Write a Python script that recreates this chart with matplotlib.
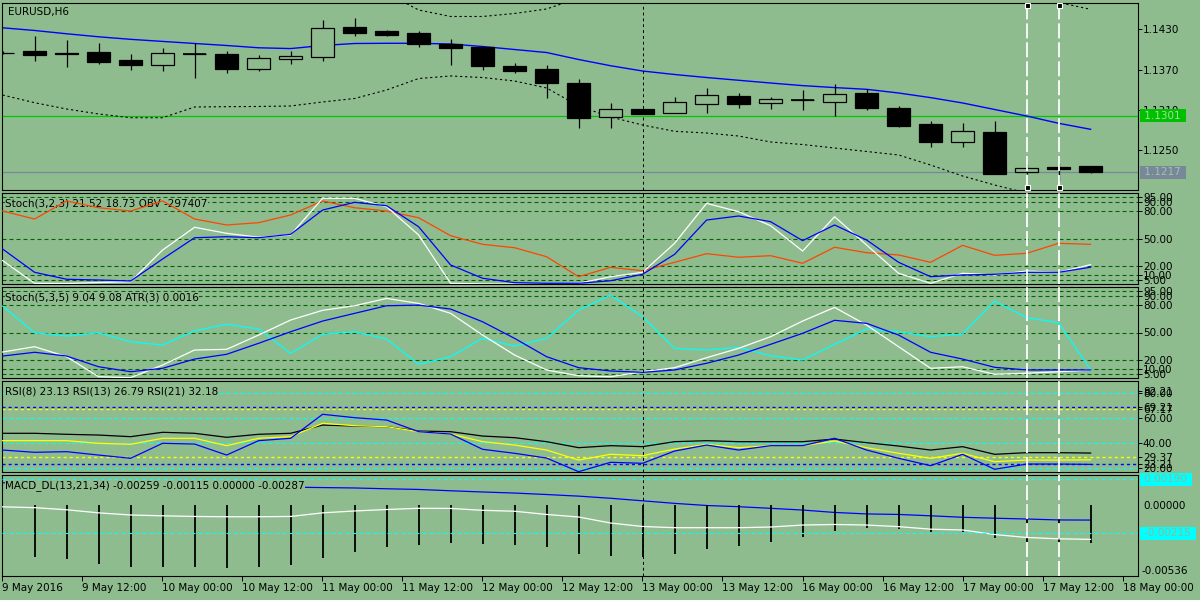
import matplotlib
matplotlib.use('Agg')
import matplotlib.pyplot as plt
import matplotlib.transforms as mtrans
import numpy as np

plt.rcParams['font.family'] = ['DejaVu Sans']
plt.rcParams['font.size'] = 7.5

# ---------------- data (bar index -1 .. 33) ----------------
bar_index = np.arange(-1, 34)

open_ = [1.13956, 1.13979, 1.13953, 1.13964, 1.13845, 1.13774, 1.13935, 1.13934, 1.13715, 1.13864,
         1.13885, 1.14333, 1.14277, 1.14247, 1.14079, 1.14034, 1.13759, 1.13710, 1.13501, 1.12989,
         1.13113, 1.13058, 1.13192, 1.13303, 1.13198, 1.13247, 1.13222, 1.13352, 1.13128, 1.12885,
         1.12625, 1.12770, 1.12168, 1.12252, 1.12267]
high = [1.13979, 1.14203, 1.14139, 1.14094, 1.13930, 1.14019, 1.14094, 1.13979, 1.13919, 1.13983,
        1.14441, 1.14467, 1.14292, 1.14277, 1.14153, 1.14053, 1.13795, 1.13770, 1.13561, 1.13198,
        1.13118, 1.13297, 1.13422, 1.13347, 1.13297, 1.13397, 1.13486, 1.13416, 1.13158, 1.12934,
        1.12900, 1.12934, 1.12292, 1.12303, 1.12267]
low = [1.13927, 1.13830, 1.13745, 1.13780, 1.13700, 1.13685, 1.13580, 1.13655, 1.13685, 1.13789,
       1.13834, 1.14207, 1.14207, 1.14039, 1.13774, 1.13695, 1.13655, 1.13282, 1.12834, 1.12825,
       1.13039, 1.13049, 1.13058, 1.13133, 1.13118, 1.13099, 1.13009, 1.13099, 1.12849, 1.12551,
       1.12551, 1.12139, 1.12139, 1.12039, 1.12153]
close = [1.13946, 1.13924, 1.13930, 1.13819, 1.13774, 1.13949, 1.13935, 1.13715, 1.13870, 1.13904,
         1.14318, 1.14252, 1.14222, 1.14079, 1.14028, 1.13759, 1.13685, 1.13506, 1.12983, 1.13113,
         1.13043, 1.13213, 1.13318, 1.13192, 1.13262, 1.13247, 1.13333, 1.13133, 1.12859, 1.12625,
         1.12785, 1.12148, 1.12228, 1.12222, 1.12170]

ma_blue = [1.14325, 1.14285, 1.14236, 1.14191, 1.14153, 1.14122, 1.14091, 1.14061, 1.14027, 1.14015,
           1.14061, 1.14091, 1.14094, 1.14094, 1.14083, 1.14046, 1.14001, 1.13956, 1.13852, 1.13759,
           1.13680, 1.13628, 1.13583, 1.13542, 1.13501, 1.13462, 1.13433, 1.13407, 1.13352, 1.13283,
           1.13203, 1.13106, 1.13009, 1.12900, 1.12810]
band_upper = [1.15328, 1.15362, 1.15358, 1.15343, 1.15324, 1.15261, 1.15039, 1.14974, 1.14903, 1.14871,
              1.14904, 1.14912, 1.14844, 1.14591, 1.14494, 1.14494, 1.14539, 1.14606, 1.14770, 1.14859,
              1.14919, 1.14949, 1.14964, 1.14964, 1.14964, 1.14949, 1.14949, 1.14934, 1.14919, 1.14889,
              1.14844, 1.14800, 1.14755, 1.14703, 1.14601]
band_lower = [1.13322, 1.13207, 1.13113, 1.13039, 1.12983, 1.12983, 1.13143, 1.13148, 1.13151, 1.13158,
              1.13218, 1.13270, 1.13397, 1.13568, 1.13606, 1.13583, 1.13531, 1.13427, 1.13158, 1.12994,
              1.12874, 1.12780, 1.12755, 1.12710, 1.12621, 1.12583, 1.12531, 1.12479, 1.12427, 1.12277,
              1.12113, 1.11979, 1.11860, 1.11785, 1.11755]
green_level = 1.1301
last_price = 1.1217
price_ticks = [1.1430, 1.1370, 1.1310, 1.1250]

stoch1_main = [26, 1.2, 1.0, 2, 3, 37.5, 62.3, 55.7, 51.4, 53.9, 93.9, 93.9, 84.7, 53.9, 1.2, 0.5, 0.3, 0.2,
               1.2, 8.4, 13.2, 44.8, 88.4, 79.3, 64, 36.4, 73.8, 42.9, 12.1, 1.2, 12.1, 10.3, 14.6, 13.2, 21.52]
stoch1_signal = [38.6, 13.2, 5.6, 4.8, 3.7, 27.7, 50.9, 52, 50.9, 54.6, 81.1, 89.5, 85.8, 62.9, 21.2, 6.7, 1.9,
                 1.2, 1.2, 4.0, 11, 32.8, 70.2, 74.6, 68.4, 47.7, 64.8, 48.4, 24.1, 8.4, 10.3, 11, 13.2, 13.2, 18.73]
obv_scaled = [80, 71.3, 91, 83.6, 80, 91, 71.3, 64.8, 67.3, 75.7, 91, 83.6, 80, 72.7, 53.1, 43.7, 40, 30.2,
              8.4, 18.6, 14.9, 24.1, 33.5, 29.6, 31.3, 23.0, 40.5, 34.6, 32.1, 24.1, 42.6, 31.7, 33.9, 44.8, 43.7]
stoch2_main = [28.7, 34.5, 23.6, 1.7, 0.7, 14.5, 30.9, 31.6, 47.2, 63.6, 74.2, 79.2, 87.2, 81.8, 70.9, 47.2,
               25.4, 9.1, 2.8, 1.7, 7.2, 11.6, 22.5, 32.7, 45.4, 62.5, 77.4, 58.1, 34.5, 10.9, 12.6, 4.4, 5.5, 7.2, 9.04]
stoch2_signal = [24.3, 28.4, 24.3, 12.6, 7.2, 10.9, 21, 26.2, 38.2, 50.8, 62.5, 70.9, 79.2, 79.9, 75.6, 61.7,
                 43.6, 23.6, 11.6, 8, 6.5, 9.1, 16.4, 25.4, 37.1, 49.1, 63.3, 60, 47.2, 28.4, 21, 12, 9.1, 9.1, 9.08]
atr_scaled = [78.8, 49.7, 46.1, 49.7, 39.9, 36.3, 51.9, 58.9, 53.8, 27.3, 48, 50.8, 42.9, 15.3, 23.6, 43.6,
              35.2, 43.6, 74.5, 90.8, 67.2, 32.7, 30.9, 33.8, 24.6, 20, 37.1, 53.8, 50.8, 45.4, 48.3, 84.3, 66.1, 60.6, 9.1]
stoch_levels = [95, 90, 80, 50, 20, 10, 5]

rsi8 = [34.6, 32.8, 33.3, 30.6, 28, 40, 39.4, 30.6, 42.1, 44, 63.2, 60.5, 58.6, 49.3, 47.4, 35.2, 32, 28.2,
        17.3, 24.8, 24, 33.8, 38.6, 34.6, 38.1, 38.1, 44, 34.6, 28, 22.1, 31.2, 19.2, 23.4, 23.4, 23.13]
rsi13 = [42.1, 42.1, 42.1, 40, 39.2, 44, 44, 38.1, 44, 45.3, 56, 54.1, 53.3, 49.3, 47.4, 41.3, 38.6, 34.6,
         26.6, 31.2, 30.1, 35.4, 39.2, 36.5, 38.1, 38.1, 41.8, 36.5, 32, 28, 32, 25.3, 26.6, 26.6, 26.79]
rsi21 = [48, 48, 47.2, 46.6, 45.3, 48.8, 48, 44.8, 47.2, 48, 54.6, 53.8, 53.3, 49.8, 49.3, 45.8, 44.5, 41.3,
         36.5, 38.1, 37.3, 41.3, 42.1, 41.3, 41.3, 41.3, 43.4, 40.5, 37.8, 34.6, 37.3, 31.2, 32.5, 32.5, 32.18]
rsi_cyan_levels = [80, 60, 40, 20]
rsi_blue_levels = [69.21, 23.21]
rsi_yellow_levels = [67.17, 29.37]
rsi_tick_values = [82.21, 80, 69.21, 67.17, 60, 40, 29.37, 23.21, 20]

macd_hist = [np.nan, -0.00389, -0.00408, -0.00443, -0.00463, -0.00463, -0.00463, -0.00475, -0.00463, -0.00451,
             -0.00396, -0.00351, -0.00314, -0.00301, -0.00284, -0.00296, -0.00301, -0.00314, -0.00368, -0.00381,
             -0.00389, -0.00368, -0.00333, -0.00306, -0.00276, -0.00239, -0.00194, -0.00172, -0.00182, -0.00202,
             -0.00202, -0.00251, -0.00276, -0.00288, -0.00287]
macd_main = [-0.00016, -0.00022, -0.00038, -0.00061, -0.00077, -0.00083, -0.00088, -0.00090, -0.00090, -0.00088,
             -0.00061, -0.00047, -0.00036, -0.00027, -0.00028, -0.00042, -0.00049, -0.00073, -0.00092, -0.00137,
             -0.00163, -0.00172, -0.00172, -0.00172, -0.00167, -0.00152, -0.00148, -0.00152, -0.00164, -0.00183,
             -0.00189, -0.00223, -0.00245, -0.00255, -0.00259]
macd_signal = [0.00164, 0.00160, 0.00156, 0.00152, 0.00149, 0.00145, 0.00141, 0.00137, 0.00134, 0.00131,
               0.00128, 0.00125, 0.00119, 0.00114, 0.00104, 0.00095, 0.00087, 0.00076, 0.00064, 0.00048,
               0.00029, 0.00010, -0.00006, -0.00015, -0.00027, -0.00040, -0.00058, -0.00069, -0.00073, -0.00083,
               -0.00094, -0.00101, -0.00107, -0.00114, -0.00115]
macd_levels = [0.00190, -0.00215]

time_labels = ['9 May 2016', '9 May 12:00', '10 May 00:00', '10 May 12:00', '11 May 00:00', '11 May 12:00',
               '12 May 00:00', '12 May 12:00', '13 May 00:00', '13 May 12:00', '16 May 00:00', '16 May 12:00',
               '17 May 00:00', '17 May 12:00', '18 May 00:00']
black_vline_bar = 19
white_vline_bars = [31, 32]

# ---------------- layout ----------------
BG = '#8fbc8f'
W, H = 1200, 600
fig = plt.figure(figsize=(12, 6), dpi=100, facecolor=BG)

L, R = 2.0, 1137.6
X0, DX = 34.6, 32.0
XMIN, XMAX = (L - X0) / DX, (R - X0) / DX


def panel(top, bottom):
    ax = fig.add_axes([L / W, 1 - bottom / H, (R - L) / W, (bottom - top) / H])
    ax.set_facecolor(BG)
    for s in ax.spines.values():
        s.set_linewidth(0.8)
        s.set_color('black')
    ax.set_xlim(XMIN, XMAX)
    ax.tick_params(axis='x', bottom=False, labelbottom=False)
    ax.yaxis.tick_right()
    ax.tick_params(axis='y', right=True, left=False, direction='out', length=2.6,
                   width=0.7, pad=1.2, labelsize=7.5, colors='black')
    return ax


def title(ax, text, xpx, ypx):
    ax.text(xpx / W, 1 - ypx / H, text, transform=fig.transFigure, ha='left', va='center',
            fontsize=7.5, color='black', zorder=2.5,
            bbox=dict(facecolor=BG, edgecolor='none', pad=0))


def box_label(ax, y, text, fc, tc):
    tr = mtrans.blended_transform_factory(ax.transAxes, ax.transData)
    ax.text(1 + 3.5 / (R - L), y, ' ' + text + ' ', transform=tr, ha='left', va='center',
            fontsize=7.5, color=tc, clip_on=False, zorder=20,
            bbox=dict(boxstyle='square,pad=0.15', facecolor=fc, edgecolor='none'))


def vlines_all(ax):
    ax.axvline(black_vline_bar, color='black', lw=0.7, ls=(0, (3, 3)), zorder=5)
    for b in white_vline_bars:
        ax.axvline(b, color='white', lw=1.3, ls=(0, (8.3, 2.2)), zorder=5)


idx = bar_index
o, h, l, c = map(np.array, (open_, high, low, close))

# ---------- main price panel ----------
ax0 = panel(2.7, 190.0)
ax0.set_ylim(1.14740 - 190.0 * 0.00014925, 1.14740 - 2.7 * 0.00014925)
ax0.vlines(idx, l, h, color='black', lw=0.9, zorder=3)
bull = c >= o
ax0.bar(idx[bull], c[bull] - o[bull], bottom=o[bull], width=0.7, facecolor=BG,
        edgecolor='black', linewidth=0.9, zorder=4)
ax0.bar(idx[~bull], o[~bull] - c[~bull], bottom=c[~bull], width=0.7, facecolor='black',
        edgecolor='black', linewidth=0.9, zorder=4)
doji = np.abs(c - o) < 0.00003
ax0.hlines(c[doji], idx[doji] - 0.35, idx[doji] + 0.35, color='black', lw=1.2, zorder=4)
ax0.plot(idx, ma_blue, color='#0000ff', lw=1.0, zorder=2)
ax0.plot(idx, band_upper, color='black', lw=0.8, ls=(0, (2, 2.5)), zorder=2)
ax0.plot(idx, band_lower, color='black', lw=0.8, ls=(0, (2, 2.5)), zorder=2)
ax0.axhline(green_level, color='#00c800', lw=0.9, zorder=1.5)
ax0.axhline(last_price, color='#778899', lw=0.9, zorder=1.5)
ax0.set_yticks(price_ticks)
ax0.set_yticklabels(['%.4f' % v for v in price_ticks])
box_label(ax0, green_level, '%.4f' % green_level, '#00c000', '#a6dca6')
box_label(ax0, last_price, '%.4f' % last_price, '#778899', '#a9bfae')
vlines_all(ax0)
ylo, yhi = ax0.get_ylim()
for b in white_vline_bars:
    for yy in (yhi - 2.3 * 0.00014925, ylo + 3.0 * 0.00014925):
        ax0.plot([b], [yy], marker='s', ms=3.6, mfc='black', mec='white', mew=0.8,
                 clip_on=False, zorder=6)
title(ax0, 'EURUSD,H6', 7.7, 12)

# ---------- Stoch(3,2,3) + OBV ----------
ax1 = panel(192.7, 284.4)
ax1.set_ylim(0, 100)
for lv in stoch_levels:
    ax1.axhline(lv, color='#006400', lw=0.8, ls=(0, (3.6, 2.7)), zorder=1)
ax1.plot(idx, obv_scaled, color='#ff4500', lw=0.9, zorder=3)
ax1.plot(idx, stoch1_main, color='white', lw=0.9, zorder=3)
ax1.plot(idx, stoch1_signal, color='#0000ff', lw=0.9, zorder=3.1)
ax1.set_yticks(stoch_levels)
ax1.set_yticklabels(['%.2f' % v for v in stoch_levels])
vlines_all(ax1)
title(ax1, 'Stoch(3,2,3) 21.52 18.73 OBV -297407', 5.4, 203)

# ---------- Stoch(5,3,5) + ATR ----------
ax2 = panel(286.7, 378.3)
ax2.set_ylim(0, 100)
for lv in stoch_levels:
    ax2.axhline(lv, color='#006400', lw=0.8, ls=(0, (3.6, 2.7)), zorder=1)
ax2.plot(idx, atr_scaled, color='#00ffff', lw=0.9, zorder=3)
ax2.plot(idx, stoch2_main, color='white', lw=0.9, zorder=3)
ax2.plot(idx, stoch2_signal, color='#0000ff', lw=0.9, zorder=3.1)
ax2.set_yticks(stoch_levels)
ax2.set_yticklabels(['%.2f' % v for v in stoch_levels])
vlines_all(ax2)
title(ax2, 'Stoch(5,3,5) 9.04 9.08 ATR(3) 0.0016', 5.4, 297)

# ---------- RSI ----------
ax3 = panel(380.7, 471.7)
ax3.set_ylim(17.28, 90.08)
for lv in rsi_cyan_levels:
    ax3.axhline(lv, color='#00ffff', lw=0.8, ls=(0, (3.6, 2.7)), zorder=1)
for lv in rsi_blue_levels:
    ax3.axhline(lv, color='#0000ff', lw=1.0, ls=(0, (2.2, 2.2)), zorder=1)
for lv in rsi_yellow_levels:
    ax3.axhline(lv, color='#ffff00', lw=1.0, ls=(0, (2.2, 2.2)), zorder=1)
ax3.plot(idx, rsi21, color='black', lw=0.9, zorder=3)
ax3.plot(idx, rsi13, color='#ffff00', lw=0.9, zorder=3)
ax3.plot(idx, rsi8, color='#0000ff', lw=0.9, zorder=3.1)
ax3.set_yticks(rsi_tick_values)
ax3.set_yticklabels(['%.2f' % v for v in rsi_tick_values])
vlines_all(ax3)
title(ax3, 'RSI(8) 23.13 RSI(13) 26.79 RSI(21) 32.18', 5.4, 391)

# ---------- MACD_DL ----------
ax4 = panel(474.5, 576.4)
ax4.set_ylim(-0.00536, 0.002257)
for lv in macd_levels:
    ax4.axhline(lv, color='#00ffff', lw=0.8, ls=(0, (3.6, 2.7)), zorder=4)
hist = np.array(macd_hist)
ax4.vlines(idx, 0, hist, color='black', lw=1.3, zorder=3)
ax4.plot(idx, macd_signal, color='#0000ff', lw=0.9, zorder=2)
ax4.plot(idx, macd_main, color='white', lw=0.9, zorder=3)
ax4.set_yticks([0.0])
ax4.set_yticklabels(['0.00000'])
ax4.tick_params(axis='y', length=0, pad=3.8)
tr4 = mtrans.blended_transform_factory(ax4.transAxes, ax4.transData)
ax4.text(1 + 3.5 / (R - L), -0.00536, '-0.00536', transform=tr4, ha='left', va='bottom',
         fontsize=7.5, color='black', clip_on=False)
box_label(ax4, macd_levels[0], '%.5f' % macd_levels[0], '#00ffff', '#8fb897')
box_label(ax4, macd_levels[1], '%.5f' % macd_levels[1], '#00ffff', '#8fb897')
vlines_all(ax4)
title(ax4, 'MACD_DL(13,21,34) -0.00259 -0.00115 0.00000 -0.00287', 5.4, 485.5)

# time axis
tick_px = [2 + 80.05 * j for j in range(len(time_labels))]
ax4.set_xticks([(p - X0) / DX for p in tick_px])
ax4.set_xticklabels(time_labels)
ax4.tick_params(axis='x', bottom=True, labelbottom=True, direction='out', length=3.6,
                width=0.7, pad=1.2, labelsize=7.5, colors='black')
for lab in ax4.get_xticklabels():
    lab.set_horizontalalignment('left')
ax4.set_xlim(XMIN, XMAX)

fig.savefig('out.png', dpi=100, facecolor=BG)
